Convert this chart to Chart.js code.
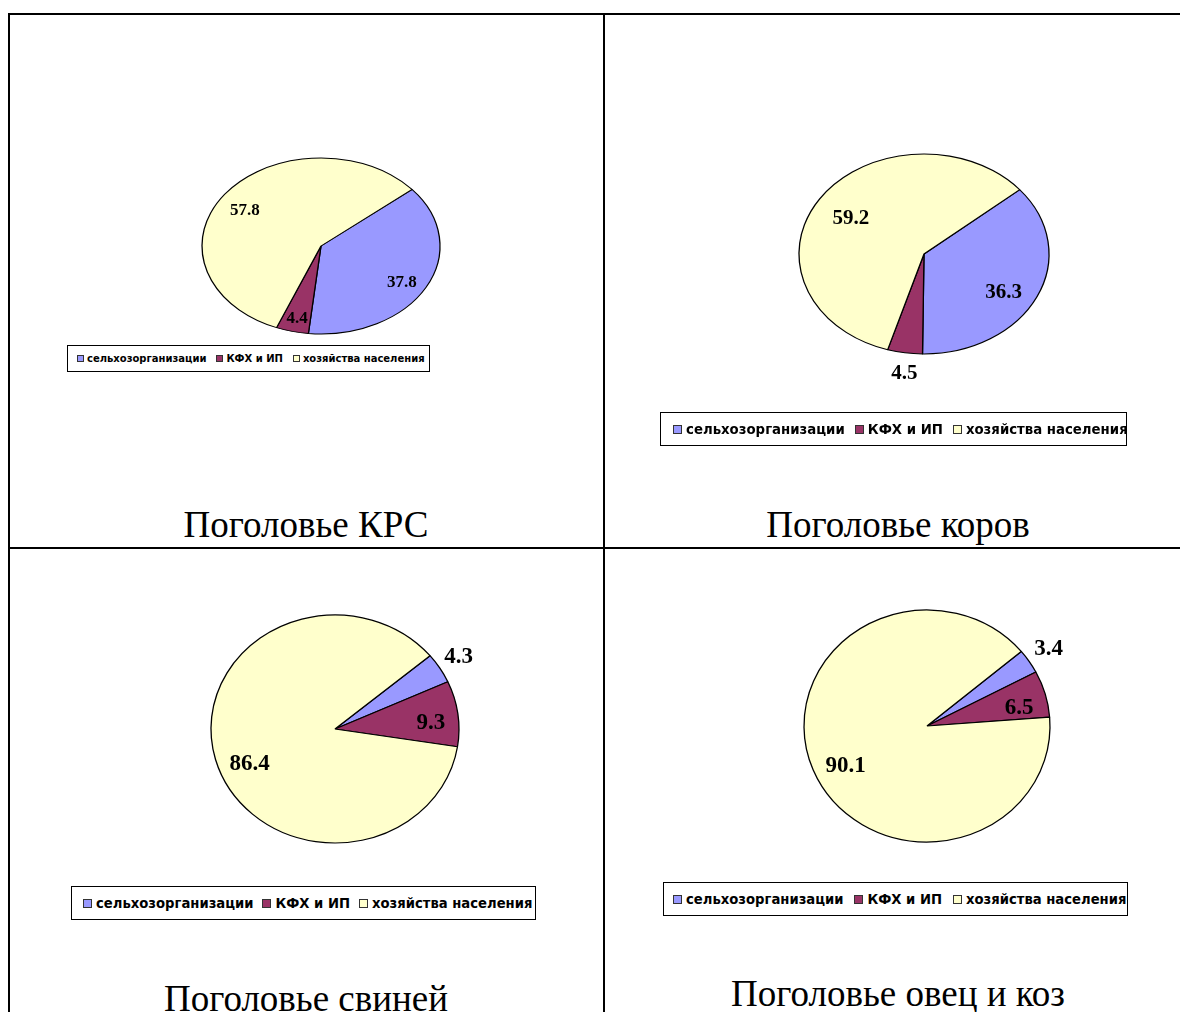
<!DOCTYPE html>
<html>
<head>
<meta charset="utf-8">
<script src="https://cdn.jsdelivr.net/npm/chart.js@4.4.1/dist/chart.umd.min.js"></script>
<style>
  html, body { margin: 0; padding: 0; background: #fff; }
  body { width: 1180px; height: 1012px; position: relative; overflow: hidden; }
  .ln { position: absolute; background: #000; }
  canvas { position: absolute; }
  .legend { position: absolute; border: 1px solid #000; box-sizing: border-box; background: #fff;
            font-family: "DejaVu Sans", Verdana, sans-serif; font-weight: bold; color: #000;
            display: flex; align-items: center; white-space: nowrap; overflow: visible; }
  .legend .item { display: flex; align-items: center; }
  .legend .mk { display: inline-block; box-sizing: border-box; border: 1px solid #333; }
  .cap { position: absolute; font-family: "Liberation Serif", "Times New Roman", serif; color: #000;
         white-space: nowrap; transform: translateX(-50%); line-height: 1; }
</style>
</head>
<body>
<div class="ln" style="left:8px;top:13px;width:1172px;height:2px"></div>
<div class="ln" style="left:8px;top:13px;width:2px;height:999px"></div>
<div class="ln" style="left:603px;top:13px;width:2px;height:999px"></div>
<div class="ln" style="left:8px;top:547px;width:1172px;height:2px"></div>
<script>
// ---- data ----
const categories = ['сельхозорганизации', 'КФХ и ИП', 'хозяйства населения'];
const titles = ['Поголовье КРС', 'Поголовье коров', 'Поголовье свиней', 'Поголовье овец и коз'];
const valuesKRS = [37.8, 4.4, 57.8];
const valuesCows = [36.3, 4.5, 59.2];
const valuesPigs = [4.3, 9.3, 86.4];
const valuesSheep = [3.4, 6.5, 90.1];
const sliceColors = ['#9999FF', '#993366', '#FFFFCC'];

// ---- layout / style ----
const panels = [
  { values: valuesKRS, cx: 321, cy: 246, rx: 119, ry: 88, labelR: [0.78, 0.83, 0.77], labelFont: 17,
    labelOff: [[-1, 4], [0, 2], [-2, 4]],
    legend: { x: 67, y: 345, w: 363, h: 27, font: 10, mk: 7, padL: 9, gap: 10, mkGap: 3 },
    cap: { x: 306, y: 506, size: 37 } },
  { values: valuesCows, cx: 924, cy: 254, rx: 125, ry: 100, labelR: [0.74, 1.19, 0.70], labelFont: 21,
    labelOff: [[-4, 7], [3, 2], [0, 3]],
    legend: { x: 660, y: 412, w: 467, h: 34, font: 13.3, mk: 9, padL: 12, gap: 10, mkGap: 4 },
    cap: { x: 898, y: 506, size: 37 } },
  { values: valuesPigs, cx: 335, cy: 729, rx: 124, ry: 114, labelR: [1.18, 0.78, 0.74], labelFont: 23,
    labelOff: [[0, 0], [0, 6], [3, 12]],
    legend: { x: 71, y: 886, w: 465, h: 34, font: 13.2, mk: 9, padL: 11, gap: 9, mkGap: 4 },
    cap: { x: 306, y: 980, size: 37 } },
  { values: valuesSheep, cx: 927, cy: 726, rx: 123, ry: 116, labelR: [1.19, 0.77, 0.74], labelFont: 23,
    labelOff: [[0, 0], [1, 7], [3, 8]],
    legend: { x: 663, y: 882, w: 465, h: 34, font: 13.2, mk: 9, padL: 9, gap: 11, mkGap: 4 },
    cap: { x: 898, y: 975, size: 37 } }
];

const PAD = 50;

panels.forEach((p, i) => {
  const size = 2 * p.rx + 2 * PAD;
  const cv = document.createElement('canvas');
  cv.width = size; cv.height = size;
  cv.style.left = (p.cx - size / 2) + 'px';
  cv.style.top = (p.cy - size / 2) + 'px';
  cv.style.width = size + 'px'; cv.style.height = size + 'px';
  document.body.appendChild(cv);

  const sy = p.ry / p.rx;
  const ellipsePlugin = {
    id: 'ellipse' + i,
    beforeDatasetsDraw(chart) {
      const a = chart.getDatasetMeta(0).data[0];
      const ctx = chart.ctx;
      ctx.save();
      ctx.translate(a.x, a.y);
      ctx.scale(1, sy);
      ctx.translate(-a.x, -a.y);
    },
    afterDatasetsDraw(chart) { chart.ctx.restore(); }
  };
  const labelPlugin = {
    id: 'labels' + i,
    afterDraw(chart) {
      const ctx = chart.ctx;
      const ds = chart.data.datasets[0];
      chart.getDatasetMeta(0).data.forEach((arc, j) => {
        const mid = (arc.startAngle + arc.endAngle) / 2;
        const r = p.labelR[j];
        const x = arc.x + Math.cos(mid) * arc.outerRadius * r + p.labelOff[j][0];
        const y = arc.y + Math.sin(mid) * arc.outerRadius * sy * r + p.labelOff[j][1];
        ctx.save();
        ctx.font = 'bold ' + p.labelFont + 'px "Liberation Serif", "Times New Roman", serif';
        ctx.fillStyle = '#000';
        ctx.textAlign = 'center';
        ctx.textBaseline = 'middle';
        ctx.fillText(ds.data[j].toFixed(1), x, y);
        ctx.restore();
      });
    }
  };

  new Chart(cv, {
    type: 'pie',
    data: {
      labels: categories,
      datasets: [{ data: p.values, backgroundColor: sliceColors, borderColor: '#000', borderWidth: 1.3 }]
    },
    options: {
      responsive: false,
      animation: false,
      rotation: 50,
      radius: p.rx,
      layout: { padding: PAD },
      plugins: { legend: { display: false }, tooltip: { enabled: false } }
    },
    plugins: [ellipsePlugin, labelPlugin]
  });

  // legend box
  const L = p.legend;
  const lg = document.createElement('div');
  lg.className = 'legend';
  Object.assign(lg.style, { left: L.x + 'px', top: L.y + 'px', width: L.w + 'px', height: L.h + 'px',
    fontSize: L.font + 'px', paddingLeft: L.padL + 'px', gap: L.gap + 'px' });
  categories.forEach((c, j) => {
    const it = document.createElement('span');
    it.className = 'item';
    const mk = document.createElement('span');
    mk.className = 'mk';
    Object.assign(mk.style, { width: L.mk + 'px', height: L.mk + 'px', background: sliceColors[j], marginRight: L.mkGap + 'px' });
    it.appendChild(mk);
    it.appendChild(document.createTextNode(c));
    lg.appendChild(it);
  });
  document.body.appendChild(lg);

  // caption
  const cap = document.createElement('div');
  cap.className = 'cap';
  cap.textContent = titles[i];
  Object.assign(cap.style, { left: p.cap.x + 'px', top: p.cap.y + 'px', fontSize: p.cap.size + 'px' });
  document.body.appendChild(cap);
});
</script>
</body>
</html>
